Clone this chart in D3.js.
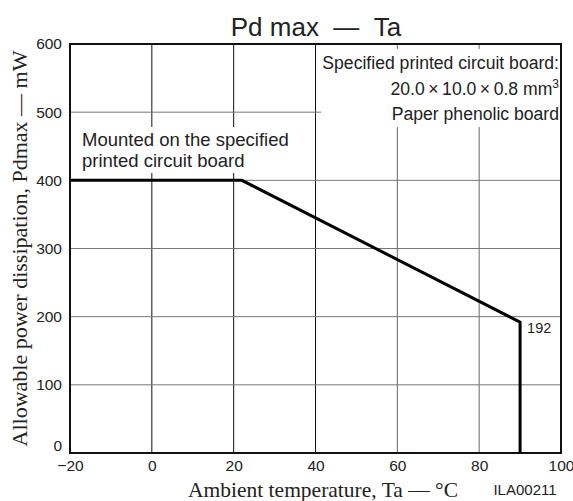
<!DOCTYPE html>
<html><head><meta charset="utf-8">
<script src="https://cdn.jsdelivr.net/npm/d3@7"></script>
<style>body{margin:0;background:#fff}svg{display:block}</style>
</head><body>
<svg id="c" width="573" height="501"></svg>
<script>
const xTicks = [-20, 0, 20, 40, 60, 80, 100];
const yTicks = [0, 100, 200, 300, 400, 500, 600];
const temps = [-20, 22, 90, 90];
const power = [400, 400, 192, 0];
const noteRight = ["Specified printed circuit board:", "20.0\u2009\u00d7\u200910.0\u2009\u00d7\u20090.8 mm", "Paper phenolic board"];
const noteLeft = ["Mounted on the specified", "printed circuit board"];

const svg = d3.select("#c");
const L = 70, R = 561, T = 44, B = 453;
const x = d3.scaleLinear().domain([-20, 100]).range([L, R]);
const y = d3.scaleLinear().domain([0, 600]).range([B, T]);
const sans = "'Liberation Sans', Arial, sans-serif";
const serif = "'Liberation Serif', 'Times New Roman', serif";
const ink = "#222";

// grid
const g = svg.append("g");
g.selectAll("line.v").data(xTicks.slice(1, -1)).enter().append("line")
  .attr("x1", d => x(d)).attr("x2", d => x(d)).attr("y1", T).attr("y2", B)
  .attr("stroke", d => d >= 60 ? "#666" : "#111").attr("stroke-width", 1);
g.selectAll("line.h").data(yTicks.slice(1, -1)).enter().append("line")
  .attr("x1", L).attr("x2", R).attr("y1", d => y(d)).attr("y2", d => y(d))
  .attr("stroke", "#777").attr("stroke-width", 1);

// masks behind notes
svg.append("rect").attr("x", 321).attr("y", T + 5).attr("width", R - 321 - 1).attr("height", 78).attr("fill", "#fff");
svg.append("rect").attr("x", L + 1).attr("y", 127).attr("width", 230).attr("height", 46).attr("fill", "#fff");

// frame
svg.append("rect").attr("x", L).attr("y", T).attr("width", R - L).attr("height", B - T)
  .attr("fill", "none").attr("stroke", "#111").attr("stroke-width", 2);

// axes labels
const xa = d3.axisBottom(x).tickValues(xTicks).tickSize(0).tickPadding(7)
  .tickFormat(d => d < 0 ? "\u2212" + Math.abs(d) : d);
const gx = svg.append("g").attr("transform", `translate(0,${B})`).call(xa);
gx.select(".domain").remove();
gx.selectAll("text").attr("font-family", sans).attr("font-size", 15.5).attr("fill", ink);

const ya = d3.axisLeft(y).tickValues(yTicks).tickSize(0).tickPadding(8);
const gy = svg.append("g").attr("transform", `translate(${L},0)`).call(ya);
gy.select(".domain").remove();
gy.selectAll("text").attr("font-family", sans).attr("font-size", 15.5).attr("fill", ink)
  .attr("dy", d => d === 0 ? "-0.15em" : "0.32em");

// curve
const pts = temps.map((t, i) => [t, power[i]]);
svg.append("path").datum(pts)
  .attr("d", d3.line().x(d => x(d[0])).y(d => y(d[1])))
  .attr("fill", "none").attr("stroke", "#000").attr("stroke-width", 3).attr("stroke-linejoin", "miter");

svg.append("text").attr("x", x(90) + 7).attr("y", y(192) + 11)
  .attr("font-family", sans).attr("font-size", 14.5).attr("fill", ink).text(power[2]);

// notes
const nr = svg.append("g").attr("font-family", sans).attr("font-size", 17.6).attr("fill", ink).attr("text-anchor", "end");
nr.append("text").attr("x", R - 2).attr("y", 69).text(noteRight[0]);
const t2 = nr.append("text").attr("x", R - 2).attr("y", 95);
t2.append("tspan").text(noteRight[1]);
t2.append("tspan").attr("font-size", 12).attr("dy", -7).text("3");
nr.append("text").attr("x", R - 2).attr("y", 120).text(noteRight[2]);

const nl = svg.append("g").attr("font-family", sans).attr("font-size", 18.5).attr("fill", ink);
nl.append("text").attr("x", 82).attr("y", 146).text(noteLeft[0]);
nl.append("text").attr("x", 82).attr("y", 167).text(noteLeft[1]);

// titles
svg.append("text").attr("x", 316).attr("y", 36).attr("text-anchor", "middle")
  .attr("font-family", sans).attr("font-size", 26).attr("fill", ink).text("Pd max\u00a0\u00a0\u2014\u00a0\u00a0Ta");
svg.append("text").attr("transform", `translate(27,${(T + B) / 2}) rotate(-90)`).attr("text-anchor", "middle")
  .attr("font-family", serif).attr("font-size", 22).attr("fill", ink)
  .text("Allowable power dissipation, Pdmax \u2014 mW");
svg.append("text").attr("x", 323).attr("y", 497).attr("text-anchor", "middle")
  .attr("font-family", serif).attr("font-size", 21.5).attr("fill", ink)
  .text("Ambient temperature, Ta \u2014 \u00b0C");
svg.append("text").attr("x", 525).attr("y", 495).attr("text-anchor", "middle")
  .attr("font-family", sans).attr("font-size", 15).attr("fill", ink).text("ILA00211");
</script>
</body></html>
